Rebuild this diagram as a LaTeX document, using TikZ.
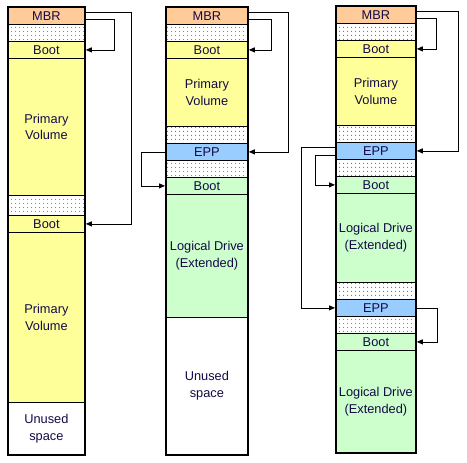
\documentclass[tikz,border=0pt]{standalone}
\usepackage{fontspec}
\setmainfont{Liberation Sans}
\usetikzlibrary{arrows.meta, patterns.meta}
\definecolor{mbrcol}{RGB}{255,204,153}
\definecolor{pricol}{RGB}{255,255,153}
\definecolor{eppcol}{RGB}{153,204,255}
\definecolor{logcol}{RGB}{204,255,204}
\definecolor{txtcol}{RGB}{20,10,70}
\tikzset{seg/.style={draw=black, line width=0.8pt, anchor=north west, inner sep=0pt, align=center, text=txtcol, font=\fontsize{12.8}{16.7}\selectfont},
  mbr/.style={fill=mbrcol}, pri/.style={fill=pricol}, epp/.style={fill=eppcol},
  logi/.style={fill=logcol}, unused/.style={fill=white},
  gap/.style={pattern={Dots[distance=4pt, radius=0.55pt]}, pattern color=black!80},
  frame/.style={line width=2.2pt},
  link/.style={line width=0.8pt, shorten >=1pt, -{Triangle[length=6pt,width=5pt]}}}
% one slice of a disk column: name, left, top, bottom, style, text
\newcommand{\seg}[6]{\node[seg,#5,minimum width=\colw,minimum height={#4-#3}] (#1) at (#2,#3) {#6};}

\begin{document}
\begin{tikzpicture}[x=1pt, y=-1pt]
\fill[white] (0,0) rectangle (467,463);
\useasboundingbox (0,0) rectangle (467,463);
% primary partitions only
\def\colw{76}
\seg{a1}{8}{7}{24}{mbr}{MBR}
\seg{a2}{8}{24}{41}{gap}{}
\seg{a3}{8}{41}{58}{pri}{Boot}
\seg{a4}{8}{58}{195}{pri}{Primary\\Volume}
\seg{a5}{8}{195}{215}{gap}{}
\seg{a6}{8}{215}{232}{pri}{Boot}
\seg{a7}{8}{232}{402}{pri}{Primary\\Volume}
\seg{a8}{8}{402}{454}{unused}{Unused\\space}
\draw[frame] (a1.north west) rectangle (a8.south east);
\draw[link] ([yshift=3.5pt]a1.east) -- ++(47,0) |- (a6.east);
\draw[link] ([yshift=-3.5pt]a1.east) -- ++(30,0) |- (a3.east);
% one logical drive
\def\colw{81}
\seg{b1}{166}{7}{24}{mbr}{MBR}
\seg{b2}{166}{24}{41}{gap}{}
\seg{b3}{166}{41}{58}{pri}{Boot}
\seg{b4}{166}{58}{126}{pri}{Primary\\Volume}
\seg{b5}{166}{126}{143}{gap}{}
\seg{b6}{166}{143}{160}{epp}{EPP}
\seg{b7}{166}{160}{177}{gap}{}
\seg{b8}{166}{177}{194}{logi}{Boot}
\seg{b9}{166}{194}{317}{logi}{Logical Drive\\(Extended)}
\seg{b10}{166}{317}{454}{unused}{Unused\\space}
\draw[frame] (b1.north west) rectangle (b10.south east);
\draw[link] ([yshift=3.5pt]b1.east) -- ++(41,0) |- (b6.east);
\draw[link] ([yshift=-3.5pt]b1.east) -- ++(24,0) |- (b3.east);
\draw[link] (b6.west) -- ++(-25,0) |- (b8.west);
% two logical drives
\def\colw{79}
\seg{c1}{336}{6}{23}{mbr}{MBR}
\seg{c2}{336}{23}{40}{gap}{}
\seg{c3}{336}{40}{57}{pri}{Boot}
\seg{c4}{336}{57}{125}{pri}{Primary\\Volume}
\seg{c5}{336}{125}{142}{gap}{}
\seg{c6}{336}{142}{159}{epp}{EPP}
\seg{c7}{336}{159}{176}{gap}{}
\seg{c8}{336}{176}{193}{logi}{Boot}
\seg{c9}{336}{193}{282}{logi}{Logical Drive\\(Extended)}
\seg{c10}{336}{282}{299}{gap}{}
\seg{c11}{336}{299}{316}{epp}{EPP}
\seg{c12}{336}{316}{333}{gap}{}
\seg{c13}{336}{333}{350}{logi}{Boot}
\seg{c14}{336}{350}{452}{logi}{Logical Drive\\(Extended)}
\draw[frame] (c1.north west) rectangle (c14.south east);
\draw[link] ([yshift=3.5pt]c1.east) -- ++(43,0) |- (c6.east);
\draw[link] ([yshift=-3.5pt]c1.east) -- ++(21,0) |- (c3.east);
\draw[link] ([yshift=3.5pt]c6.west) -- ++(-35,0) |- (c11.west);
\draw[link] ([yshift=-4pt]c6.west) -- ++(-21,0) |- (c8.west);
\draw[link] (c11.east) -- ++(22,0) |- (c13.east);
\end{tikzpicture}
\end{document}
